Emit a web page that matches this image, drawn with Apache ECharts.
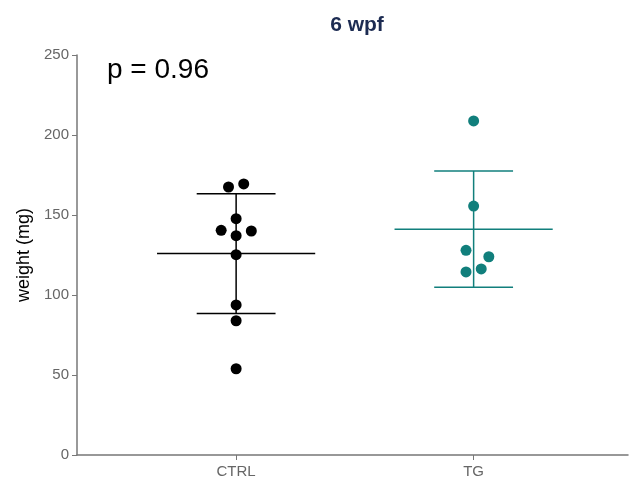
<!DOCTYPE html>
<html>
<head>
<meta charset="utf-8">
<script src="https://cdn.jsdelivr.net/npm/echarts@6/dist/echarts.min.js"></script>
<style>html,body{margin:0;padding:0;background:#fff}#c{width:630px;height:486px}</style>
</head>
<body>
<div id="c"></div>
<script>
// Data
var categories = ['CTRL', 'TG'];
var ctrlValues = [167.5, 169.4, 147.7, 140.4, 140.0, 137.1, 125.2, 93.8, 83.9, 53.9];
var ctrlJitter = [-0.032, 0.032, 0, -0.063, 0.064, 0, 0, 0, 0, 0];
var tgValues = [208.8, 155.6, 127.9, 123.9, 116.3, 114.4];
var tgJitter = [0, 0, -0.032, 0.064, 0.032, -0.032];
var yTicks = [0, 50, 100, 150, 200, 250];
var pText = 'p = 0.96';

var colors = ['#000000', '#117f7c'];
var groups = [ctrlValues, tgValues];
var jitters = [ctrlJitter, tgJitter];

function mean(a){ return a.reduce(function(s,v){return s+v;},0)/a.length; }
function sd(a){ var m=mean(a); return Math.sqrt(a.reduce(function(s,v){return s+(v-m)*(v-m);},0)/(a.length-1)); }

var series = [];
groups.forEach(function(vals, gi){
  var xc = gi + 1;
  var m = mean(vals), s = sd(vals);
  var lineStyle = {color: colors[gi], width: 1.5};
  var segs = [
    [[xc-0.333, m],[xc+0.333, m]],
    [[xc-0.166, m+s],[xc+0.166, m+s]],
    [[xc-0.166, m-s],[xc+0.166, m-s]],
    [[xc, m-s],[xc, m+s]]
  ];
  segs.forEach(function(seg){
    series.push({type:'line', data: seg, symbol:'none', lineStyle: lineStyle, silent:true, animation:false, z:2});
  });
  series.push({
    type:'scatter', symbolSize: 11, animation:false, z:3,
    itemStyle:{color: colors[gi], opacity:1},
    data: vals.map(function(v,i){ return [xc + jitters[gi][i], v]; })
  });
});

var FONT = 'Liberation Sans, Arial, sans-serif';
var chart = echarts.init(document.getElementById('c'), null, {renderer:'canvas'});
chart.setOption({
  backgroundColor:'#fff',
  animation:false,
  title:{
    text:'6 wpf', left:352, top:10, textAlign:'center',
    textStyle:{color:'#1c2b52', fontSize:21, fontWeight:'bold', fontFamily:FONT}
  },
  grid:{left:77, right:2, top:55, bottom:31, containLabel:false},
  xAxis:{
    type:'value', min:0.33, max:2.65,
    splitLine:{show:false},
    axisLine:{show:true, onZero:false, lineStyle:{color:'#777', width:1.5}},
    axisTick:{show:true, customValues:[1,2], length:5, lineStyle:{color:'#777'}},
    axisLabel:{customValues:[1,2], color:'#666', fontSize:15, margin:9, fontFamily:FONT,
      formatter:function(v){ return categories[Math.round(v)-1] || ''; }}
  },
  yAxis:{
    type:'value', min:0, max:250, interval:50,
    name:'weight (mg)', nameLocation:'middle', nameGap:44, nameRotate:90,
    nameTextStyle:{color:'#000', fontSize:18, fontFamily:FONT},
    splitLine:{show:false},
    axisLine:{show:true, lineStyle:{color:'#777', width:1.5}},
    axisTick:{show:true, length:5, lineStyle:{color:'#777'}},
    axisLabel:{color:'#666', fontSize:15, margin:8, fontFamily:FONT,
      customValues: yTicks}
  },
  graphic:[{
    type:'text', left:107, top:56,
    style:{text:pText, fill:'#000', font:'28px "Liberation Sans", Arial, sans-serif'}
  }],
  series: series
});
</script>
</body>
</html>
